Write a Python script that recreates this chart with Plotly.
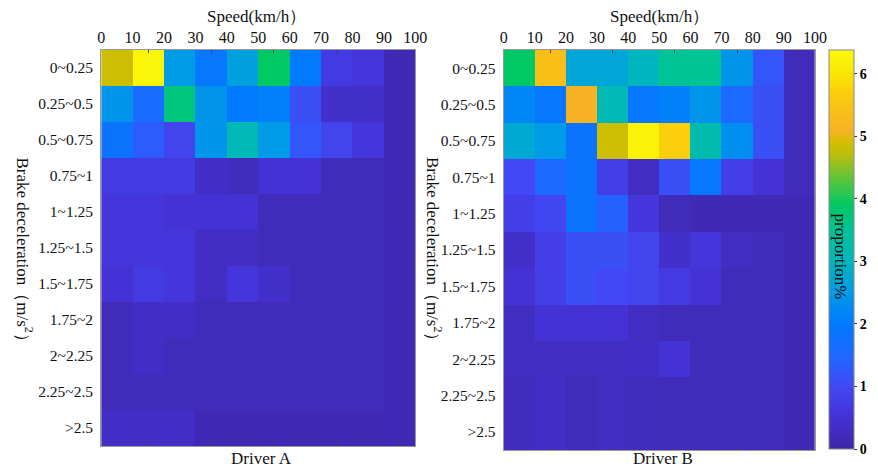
import plotly.graph_objects as go

speed_edges = [0, 10, 20, 30, 40, 50, 60, 70, 80, 90, 100]
speed_centers = [5, 15, 25, 35, 45, 55, 65, 75, 85, 95]
minor_tick_speeds = [15, 35, 55, 75, 95]
decel_labels = ["0~0.25", "0.25~0.5", "0.5~0.75", "0.75~1", "1~1.25", "1.25~1.5",
                "1.5~1.75", "1.75~2", "2~2.25", "2.25~2.5", ">2.5"]

driver_a = [
    [4.85, 6.30, 2.50, 1.90, 2.60, 3.90, 2.00, 0.70, 0.60, 0.15],
    [2.40, 1.60, 3.70, 2.40, 2.00, 2.10, 1.10, 0.40, 0.40, 0.15],
    [1.80, 1.30, 0.90, 2.40, 3.10, 2.50, 1.20, 0.90, 0.60, 0.15],
    [0.70, 0.70, 0.70, 0.35, 0.25, 0.50, 0.50, 0.20, 0.20, 0.15],
    [0.60, 0.60, 0.50, 0.50, 0.50, 0.20, 0.20, 0.20, 0.20, 0.15],
    [0.60, 0.60, 0.60, 0.30, 0.30, 0.20, 0.20, 0.20, 0.20, 0.15],
    [0.50, 0.70, 0.60, 0.30, 0.60, 0.40, 0.20, 0.20, 0.20, 0.15],
    [0.20, 0.35, 0.35, 0.20, 0.20, 0.20, 0.20, 0.20, 0.20, 0.15],
    [0.20, 0.35, 0.20, 0.20, 0.20, 0.20, 0.20, 0.20, 0.20, 0.15],
    [0.20, 0.20, 0.20, 0.20, 0.20, 0.20, 0.20, 0.20, 0.20, 0.15],
    [0.35, 0.35, 0.35, 0.15, 0.15, 0.15, 0.15, 0.15, 0.15, 0.15],
]

driver_b = [
    [3.90, 5.40, 2.70, 2.70, 3.00, 3.50, 3.50, 2.40, 1.20, 0.20],
    [2.20, 1.90, 5.10, 3.10, 1.90, 2.10, 2.40, 1.50, 1.10, 0.20],
    [2.75, 2.50, 1.80, 4.85, 6.25, 5.70, 3.20, 2.30, 1.10, 0.20],
    [1.00, 1.50, 1.80, 0.80, 0.30, 1.10, 1.90, 0.80, 0.50, 0.20],
    [0.80, 0.95, 1.80, 1.40, 0.60, 0.20, 0.15, 0.15, 0.15, 0.15],
    [0.40, 0.80, 1.10, 1.10, 0.90, 0.40, 0.60, 0.30, 0.20, 0.15],
    [0.50, 0.80, 1.10, 1.00, 0.90, 0.70, 0.50, 0.20, 0.20, 0.15],
    [0.30, 0.50, 0.50, 0.50, 0.30, 0.20, 0.20, 0.20, 0.20, 0.15],
    [0.30, 0.30, 0.30, 0.30, 0.35, 0.50, 0.20, 0.20, 0.20, 0.15],
    [0.25, 0.35, 0.20, 0.30, 0.25, 0.20, 0.20, 0.20, 0.20, 0.15],
    [0.25, 0.35, 0.20, 0.30, 0.25, 0.20, 0.20, 0.20, 0.20, 0.15],
]

cbar_ticks = [0, 1, 2, 3, 4, 5, 6]
zmax = 6.38

stops = [
    (0.0, (62, 38, 168)),
    (0.5, (68, 50, 212)),
    (1.0, (66, 72, 245)),
    (1.5, (30, 105, 255)),
    (2.0, (0, 122, 255)),
    (2.5, (0, 155, 230)),
    (3.0, (0, 182, 190)),
    (3.5, (0, 195, 150)),
    (3.9, (0, 200, 100)),
    (4.3, (90, 196, 60)),
    (4.7, (185, 190, 15)),
    (4.9, (212, 190, 0)),
    (5.1, (248, 178, 38)),
    (5.6, (250, 200, 15)),
    (6.0, (250, 230, 5)),
    (6.38, (250, 250, 10)),
]
colorscale = [[v / zmax, "rgb(%d,%d,%d)" % c] for v, c in stops]

FONT = "Liberation Serif"
W, H = 878, 468

def px(x):
    return x / W

def py(y):
    return 1 - y / H

fig = go.Figure()
fig.add_trace(go.Heatmap(x=speed_centers, y=decel_labels, z=driver_a,
                         coloraxis="coloraxis", xaxis="x", yaxis="y"))
fig.add_trace(go.Heatmap(x=speed_centers, y=decel_labels, z=driver_b,
                         coloraxis="coloraxis", xaxis="x2", yaxis="y2"))

xcommon = dict(range=[0, 100], side="top", tickmode="array", tickvals=speed_edges,
               ticktext=[str(v) for v in speed_edges], ticks="", showgrid=False,
               zeroline=False, showline=True, mirror="allticks", linecolor="#999999",
               linewidth=1, tickfont=dict(family=FONT, size=16, color="#111"),
               minor=dict(tickmode="array", tickvals=minor_tick_speeds, ticks="inside",
                          ticklen=3, tickcolor="#444", tickwidth=1, showgrid=False))
ycommon = dict(autorange="reversed", type="category", ticks="", showgrid=False,
               zeroline=False, showline=True, mirror=True, linecolor="#999999",
               linewidth=1, tickfont=dict(family=FONT, size=15.5, color="#111"),
               ticklabelstandoff=4)

fig.update_layout(
    width=W, height=H,
    margin=dict(l=0, r=0, t=0, b=0),
    paper_bgcolor="white", plot_bgcolor="white",
    xaxis=dict(domain=[px(99), px(419)], anchor="y", **xcommon),
    yaxis=dict(domain=[py(446), py(50)], anchor="x", **ycommon),
    xaxis2=dict(domain=[px(509), px(826)], anchor="y2", **xcommon),
    yaxis2=dict(domain=[py(450), py(50)], anchor="x2", **ycommon),
    coloraxis=dict(
        cmin=0, cmax=zmax, colorscale=colorscale,
        colorbar=dict(
            x=px(840), xanchor="left", xref="paper",
            y=py(249.5), yanchor="middle", len=(449 - 50) / H, lenmode="fraction",
            thickness=25, thicknessmode="pixels",
            outlinewidth=1, outlinecolor="#888888",
            tickmode="array", tickvals=cbar_ticks,
            ticktext=[str(t) for t in cbar_ticks],
            ticks="outside", ticklen=3, tickcolor="#333",
            tickfont=dict(family=FONT + ", serif", size=14, color="#000", weight="bold"),
            xpad=0, ypad=0,
        ),
    ),
    showlegend=False,
)

annots = [
    dict(text="Speed(km/h）", x=px(257), y=py(17)),
    dict(text="Speed(km/h）", x=px(668), y=py(17)),
    dict(text="Driver A", x=px(262), y=py(458)),
    dict(text="Driver B", x=px(671), y=py(458)),
    dict(text="Brake deceleration（m/s<sup>2</sup>）", x=px(21), y=py(253), textangle=90),
    dict(text="Brake deceleration（m/s<sup>2</sup>）", x=px(438), y=py(253), textangle=90),
    dict(text="proportion%", x=px(853), y=py(257), textangle=90),
]
for a in annots:
    fig.add_annotation(xref="paper", yref="paper", showarrow=False,
                       xanchor="center", yanchor="middle",
                       font=dict(family=FONT, size=17, color="#111"), **a)

fig.write_html("out.html")
